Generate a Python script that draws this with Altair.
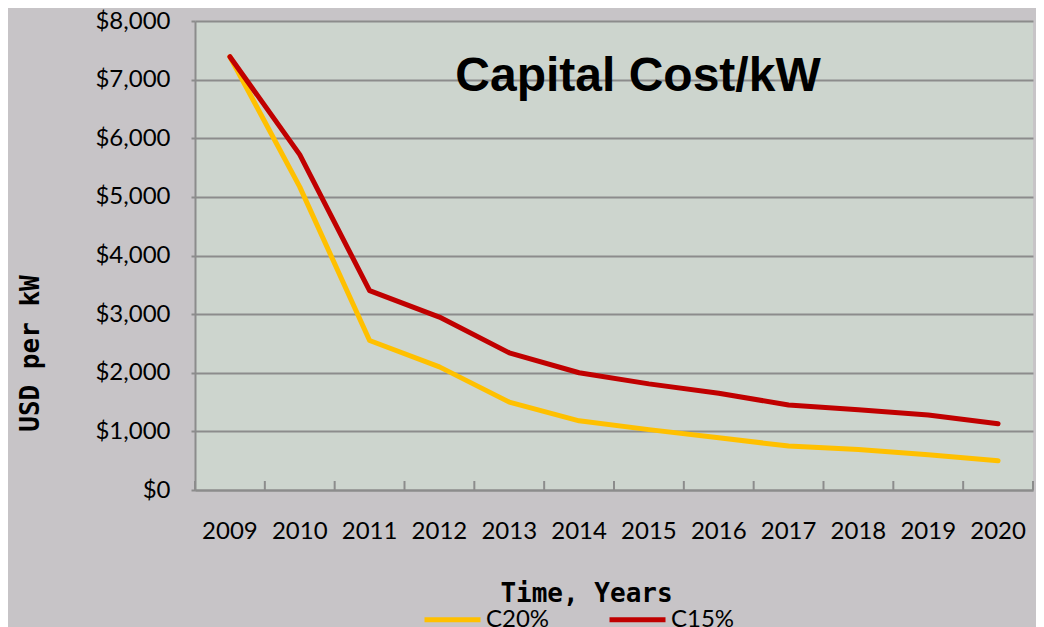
import altair as alt
import pandas as pd

years = ["2009", "2010", "2011", "2012", "2013", "2014", "2015", "2016", "2017", "2018", "2019", "2020"]
c20 = [7390, 5170, 2550, 2100, 1500, 1180, 1030, 890, 750, 690, 600, 500]
c15 = [7390, 5720, 3400, 2950, 2340, 2000, 1810, 1650, 1450, 1370, 1280, 1130]
series = ["C20%", "C15%"]
colors = ["#FFC000", "#C00000"]

rows = []
for y, v in zip(years, c20):
    rows.append({"year": y, "value": v, "series": "C20%"})
for y, v in zip(years, c15):
    rows.append({"year": y, "value": v, "series": "C15%"})
df = pd.DataFrame(rows)
yr = pd.DataFrame({"year": years})

W, H = 838, 469
label_font = "Lato"
mono = "DejaVu Sans Mono"

xscale = alt.Scale(domain=years, paddingInner=0, paddingOuter=0)

xaxis = alt.Axis(title="Time, Years", labelAngle=0, ticks=False, bandPosition=0.5,
                 grid=False, domainColor="#8c8c8c", domainWidth=2,
                 labelFont=label_font, labelFontSize=24, labelColor="#000000",
                 labelPadding=29, labelAlign="center",
                 titleFont=mono, titleFontWeight="bold", titleFontSize=26,
                 titleColor="#000000", titleX=391, titleY=103, titleBaseline="middle")

lines = alt.Chart(df).mark_line(strokeWidth=5, strokeCap="round", strokeJoin="round").encode(
    x=alt.X("year:N", scale=xscale, sort=years, axis=xaxis),
    y=alt.Y("value:Q", scale=alt.Scale(domain=[0, 8000]),
            axis=alt.Axis(title="USD per kW", values=list(range(0, 8001, 1000)), format="$,d",
                          gridColor="#8c8c8c", gridWidth=2, domainColor="#8c8c8c", domainWidth=2,
                          tickColor="#8c8c8c", tickWidth=2, tickSize=4,
                          labelFont=label_font, labelFontSize=24, labelColor="#000000",
                          labelPadding=21,
                          titleFont=mono, titleFontWeight="bold", titleFontSize=26,
                          titleColor="#000000", titleX=-165, titleY=332, titleBaseline="middle",
                          titleAngle=-90)),
    color=alt.Color("series:N", scale=alt.Scale(domain=series, range=colors),
                    legend=alt.Legend(title=None, orient="none", legendX=227, legendY=568,
                                      direction="horizontal", symbolType="stroke",
                                      symbolStrokeWidth=5, symbolSize=3136,
                                      labelFont=label_font, labelFontSize=24, labelColor="#000000",
                                      labelOffset=3, columnPadding=49)),
)

ticks = alt.Chart(yr).mark_rule(color="#8c8c8c", strokeWidth=2).encode(
    x=alt.X("year:N", scale=xscale, sort=years, bandPosition=0, axis=xaxis),
    y=alt.value(H - 9), y2=alt.value(H),
)
end_tick = alt.Chart(yr).transform_filter(alt.datum.year == "2020").mark_rule(color="#8c8c8c", strokeWidth=2).encode(
    x=alt.X("year:N", scale=xscale, sort=years, bandPosition=1, axis=xaxis),
    y=alt.value(H - 9), y2=alt.value(H),
)

chart = alt.layer(lines, ticks, end_tick).properties(
    width=W, height=H,
    title=alt.TitleParams("Capital Cost/kW", font="Liberation Sans", fontSize=48, fontWeight="bold",
                          color="#000000", anchor="middle", frame="group", orient="top",
                          baseline="alphabetic", dx=24, dy=130, offset=0),
    autosize=alt.AutoSizeParams(type="none"),
    padding={"left": 187, "top": 13, "right": 3, "bottom": 137},
    background="#C7C4C7",
).configure_view(fill="#CDD5CE", stroke=None)

chart.save("out.html", embed_options={"renderer": "svg", "actions": False})
